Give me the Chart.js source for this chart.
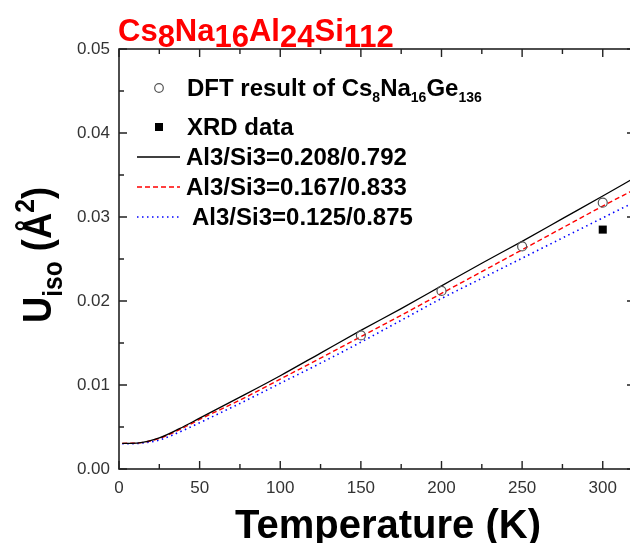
<!DOCTYPE html>
<html><head><meta charset="utf-8">
<script src="https://cdn.jsdelivr.net/npm/chart.js@4"></script>
<style>html,body{margin:0;padding:0;overflow:hidden;background:#fff}
#wrap{position:relative;width:642px;height:543px}</style>
</head><body><div id="wrap"><canvas id="c"></canvas></div>
<script>
const temperatures = [2,12.5,25,37.5,50,62.5,75,100,125,150,175,200,225,250,275,300,320];
const uiso_0208 = [0.00305,0.00312,0.00370,0.00480,0.00605,0.00730,0.00855,0.0111,0.0138,0.0165,0.0191,0.0218,0.0245,0.0271,0.0298,0.0325,0.0347];
const uiso_0167 = [0.00305,0.00311,0.00365,0.00468,0.00590,0.00705,0.00820,0.0107,0.0132,0.01575,0.0183,0.0209,0.0235,0.0261,0.0287,0.0313,0.0333];
const uiso_0125 = [0.00300,0.00306,0.00345,0.00440,0.00550,0.00665,0.00780,0.0102,0.0126,0.0151,0.0177,0.0203,0.0227,0.0251,0.0275,0.0299,0.0318];
const dftTemps = [150,200,250,300];
const dftUiso = [0.0159,0.0212,0.0265,0.0317];
const xrdTemps = [300];
const xrdUiso = [0.0285];
const xTickLabels = [0,50,100,150,200,250,300];
const yTickLabels = [0,0.01,0.02,0.03,0.04,0.05];

const FONT = '"Liberation Sans", Arial, sans-serif';
const AXIS = '#222';

function pts(xs, ys){ return xs.map((x,i)=>({x:x, y:ys[i]})); }

function richWidth(ctx, parts){
  let w = 0;
  for (const p of parts){ ctx.font = 'bold ' + p.s + 'px ' + FONT; w += ctx.measureText(p.t).width; }
  return w;
}
function drawRich(ctx, x, y, parts, color){
  ctx.fillStyle = color;
  ctx.textBaseline = 'alphabetic';
  ctx.textAlign = 'left';
  let cx = x;
  for (const p of parts){
    ctx.font = 'bold ' + p.s + 'px ' + FONT;
    ctx.fillText(p.t, cx, y + (p.dy || 0));
    cx += ctx.measureText(p.t).width;
  }
}

const decor = {
  id: 'decor',
  afterDraw(chart){
    const ctx = chart.ctx;
    const a = chart.chartArea;
    const xs = chart.scales.x, ys = chart.scales.y;
    ctx.save();
    ctx.strokeStyle = AXIS; ctx.lineWidth = 1.6;
    ctx.strokeRect(a.left, a.top, a.right - a.left, a.bottom - a.top);
    ctx.lineWidth = 1.4;
    for (let v = 0; v <= 320; v += 25){
      const px = xs.getPixelForValue(v);
      const L = (v % 50 === 0) ? 8 : 5;
      ctx.beginPath();
      ctx.moveTo(px, a.bottom); ctx.lineTo(px, a.bottom - L);
      ctx.moveTo(px, a.top); ctx.lineTo(px, a.top + L);
      ctx.stroke();
    }
    for (let i = 0; i <= 10; i++){
      const py = ys.getPixelForValue(i * 0.005);
      const L = (i % 2 === 0) ? 8 : 5;
      ctx.beginPath();
      ctx.moveTo(a.left, py); ctx.lineTo(a.left + L, py);
      ctx.moveTo(a.right, py); ctx.lineTo(a.right - L, py);
      ctx.stroke();
    }
    // title
    drawRich(ctx, 118, 41, [
      {t:'Cs', s:31},{t:'8', s:31, dy:6},{t:'Na', s:31},{t:'16', s:31, dy:6},
      {t:'Al', s:31},{t:'24', s:31, dy:6},{t:'Si', s:31},{t:'112', s:31, dy:6}
    ], '#ff0000');
    // x title
    ctx.font = 'bold 40px ' + FONT;
    ctx.fillStyle = '#000'; ctx.textAlign = 'center'; ctx.textBaseline = 'alphabetic';
    ctx.fillText('Temperature (K)', 388, 538);
    // y title
    const yparts = [{t:'U', s:40},{t:'iso', s:27, dy:11},{t:' (Å', s:40},{t:'2', s:27, dy:-17},{t:')', s:40}];
    const tw = richWidth(ctx, yparts);
    ctx.save();
    ctx.translate(51, 255);
    ctx.rotate(-Math.PI/2);
    ctx.scale(0.91, 1);
    drawRich(ctx, -tw/2, 0, yparts, '#000');
    ctx.restore();
    // legend
    ctx.lineWidth = 1.2; ctx.strokeStyle = '#555';
    ctx.beginPath(); ctx.arc(159, 88, 4.3, 0, Math.PI*2); ctx.stroke();
    drawRich(ctx, 187, 96, [{t:'DFT result of Cs', s:24},{t:'8', s:14, dy:6},{t:'Na', s:24},{t:'16', s:14, dy:6},{t:'Ge', s:24},{t:'136', s:14, dy:6}], '#000');
    ctx.fillStyle = '#000'; ctx.fillRect(155, 123, 8, 8);
    drawRich(ctx, 187, 135, [{t:'XRD data', s:24}], '#000');
    ctx.lineWidth = 1.3;
    ctx.strokeStyle = '#000'; ctx.setLineDash([]);
    ctx.beginPath(); ctx.moveTo(137, 157); ctx.lineTo(180, 157); ctx.stroke();
    drawRich(ctx, 186, 165, [{t:'Al3/Si3=0.208/0.792', s:24}], '#000');
    ctx.strokeStyle = '#ff0000'; ctx.setLineDash([5,3]);
    ctx.beginPath(); ctx.moveTo(137, 187); ctx.lineTo(180, 187); ctx.stroke();
    drawRich(ctx, 186, 195, [{t:'Al3/Si3=0.167/0.833', s:24}], '#000');
    ctx.strokeStyle = '#0000ff'; ctx.setLineDash([1.5,3.5]); ctx.lineWidth = 1.6;
    ctx.beginPath(); ctx.moveTo(137, 217); ctx.lineTo(180, 217); ctx.stroke();
    drawRich(ctx, 192, 225, [{t:'Al3/Si3=0.125/0.875', s:24}], '#000');
    ctx.restore();
  }
};

new Chart(document.getElementById('c'), {
  type: 'scatter',
  data: {
    datasets: [
      {label:'Al3/Si3=0.208/0.792', data: pts(temperatures, uiso_0208), showLine:true, borderColor:'#000', borderWidth:1.3, pointRadius:0, cubicInterpolationMode:'monotone', order:3},
      {label:'Al3/Si3=0.167/0.833', data: pts(temperatures, uiso_0167), showLine:true, borderColor:'#ff0000', borderWidth:1.4, borderDash:[5,3], pointRadius:0, cubicInterpolationMode:'monotone', order:4},
      {label:'Al3/Si3=0.125/0.875', data: pts(temperatures, uiso_0125), showLine:true, borderColor:'#0000ff', borderWidth:1.6, borderDash:[1.5,3.5], pointRadius:0, cubicInterpolationMode:'monotone', order:5},
      {label:'DFT', data: pts(dftTemps, dftUiso), pointStyle:'circle', pointRadius:4.5, borderColor:'#555', borderWidth:1.2, backgroundColor:'rgba(255,255,255,0)', order:1},
      {label:'XRD data', data: pts(xrdTemps, xrdUiso), pointStyle:'rect', pointRadius:5.7, borderColor:'#000', borderWidth:0, backgroundColor:'#000', order:2}
    ]
  },
  options: {
    responsive: true, maintainAspectRatio: false, animation: false,
    layout: {padding: {top: 49, right: 7, left: 0, bottom: 0}},
    plugins: {legend: {display:false}, tooltip: {enabled:false}},
    scales: {
      x: {
        type:'linear', min:0, max:320,
        afterBuildTicks(s){ s.ticks = xTickLabels.map(v=>({value:v})); },
        afterFit(s){ s.height = 74; },
        grid: {display:false, drawTicks:false},
        border: {display:false},
        ticks: {padding: 9, maxRotation:0, color:'#333', font:{family:FONT, size:17}, callback:(v)=>String(v)}
      },
      y: {
        type:'linear', min:0, max:0.05,
        afterBuildTicks(s){ s.ticks = yTickLabels.map(v=>({value:v})); },
        afterFit(s){ s.width = 119; },
        grid: {display:false, drawTicks:false},
        border: {display:false},
        ticks: {padding: 9, color:'#333', font:{family:FONT, size:17}, callback:(v)=>Number(v).toFixed(2)}
      }
    }
  },
  plugins: [decor]
});
</script>
</body></html>
